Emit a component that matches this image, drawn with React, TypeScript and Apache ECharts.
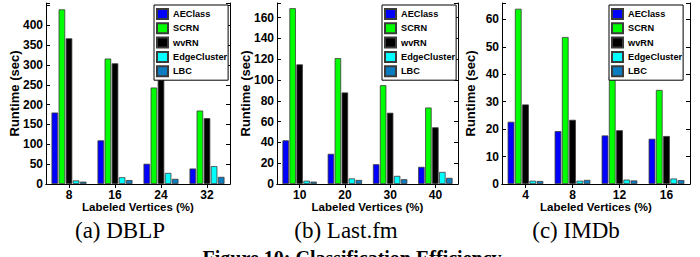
import React, { useEffect, useRef } from "react";
import * as echarts from "echarts";

const seriesNames = ["AEClass", "SCRN", "wvRN", "EdgeCluster", "LBC"];
const seriesColors = ["#0000ff", "#00ff00", "#000000", "#00ffff", "#0c7cc0"];

const catsDBLP = ["8", "16", "24", "32"];
const dblpAEClass = [180, 110, 51, 39];
const dblpSCRN = [440, 316, 243, 185];
const dblpWvRN = [367, 304, 272, 166];
const dblpEdgeCluster = [9, 17, 28, 45];
const dblpLBC = [6, 10, 13, 18];

const catsLastfm = ["10", "20", "30", "40"];
const lastfmAEClass = [42, 29, 19, 16.5];
const lastfmSCRN = [169, 121, 95, 73.5];
const lastfmWvRN = [115, 88, 68.5, 54.5];
const lastfmEdgeCluster = [3.2, 5.4, 7.8, 11.6];
const lastfmLBC = [2.3, 3.9, 4.6, 5.9];

const catsIMDb = ["4", "8", "12", "16"];
const imdbAEClass = [22.7, 19.3, 17.7, 16.5];
const imdbSCRN = [63.9, 53.6, 39.2, 34.3];
const imdbWvRN = [29, 23.4, 19.6, 17.5];
const imdbEdgeCluster = [1.2, 1.2, 1.6, 2.0];
const imdbLBC = [1.1, 1.5, 1.3, 1.4];

const yMax = [456, 174, 66];
const yInterval = [50, 20, 10];
const yLabelMax = [400, 160, 60];

const captions = ["(a) DBLP", "(b) Last.fm", "(c) IMDb"];
const figureCaption = "Figure 10: Classification Efficiency";

const panels = [
  { cats: catsDBLP, data: [dblpAEClass, dblpSCRN, dblpWvRN, dblpEdgeCluster, dblpLBC] },
  { cats: catsLastfm, data: [lastfmAEClass, lastfmSCRN, lastfmWvRN, lastfmEdgeCluster, lastfmLBC] },
  { cats: catsIMDb, data: [imdbAEClass, imdbSCRN, imdbWvRN, imdbEdgeCluster, imdbLBC] },
];

// layout (pixels)
const gridLeft = [46, 277, 502];
const gridWidth = [184, 181, 188];
const gridTop = 3;
const gridHeight = 181;
const legendLeft = [154, 382, 609];
const captionX = [120, 346, 576];

export default function App() {
  const ref = useRef<HTMLDivElement>(null);
  useEffect(() => {
    if (!ref.current) return;
    const chart = echarts.init(ref.current, undefined, { renderer: "svg" });
    const sans = "Liberation Sans";
    const axisLine = { show: true, lineStyle: { color: "#000", width: 1 } };
    const grids: any[] = [];
    const xAxes: any[] = [];
    const yAxes: any[] = [];
    const series: any[] = [];
    const legends: any[] = [];
    panels.forEach((p, i) => {
      grids.push({ left: gridLeft[i], top: gridTop, width: gridWidth[i], height: gridHeight });
      xAxes.push({
        type: "category",
        gridIndex: i,
        data: p.cats,
        position: "bottom",
        axisLine,
        axisTick: { show: true, inside: true, length: 4, alignWithLabel: true, lineStyle: { color: "#000" } },
        axisLabel: { color: "#000", fontFamily: sans, fontWeight: "bold", fontSize: 12, margin: 5 },
        name: "Labeled Vertices (%)",
        nameLocation: "middle",
        nameGap: 23,
        nameMoveOverlap: false,
        nameTextStyle: { color: "#000", fontFamily: sans, fontWeight: "bold", fontSize: 11.5, verticalAlign: "middle" },
      });
      xAxes.push({
        type: "category",
        gridIndex: i,
        data: p.cats,
        position: "top",
        axisLine,
        axisTick: { show: true, inside: true, length: 4, alignWithLabel: true, lineStyle: { color: "#000" } },
        axisLabel: { show: false },
      });
      const lm = yLabelMax[i];
      yAxes.push({
        type: "value",
        gridIndex: i,
        min: 0,
        max: yMax[i],
        interval: yInterval[i],
        position: "left",
        axisLine,
        axisTick: { show: true, inside: true, length: 4, lineStyle: { color: "#000" } },
        splitLine: { show: false },
        axisLabel: {
          color: "#000",
          fontFamily: sans,
          fontWeight: "bold",
          fontSize: 12,
          margin: 3,
          formatter: (v: number) => (v > lm ? "" : String(v)),
        },
        name: "Runtime (sec)",
        nameLocation: "middle",
        nameGap: 32,
        nameMoveOverlap: false,
        nameTextStyle: { color: "#000", fontFamily: sans, fontWeight: "bold", fontSize: 13, verticalAlign: "middle" },
      });
      yAxes.push({
        type: "value",
        gridIndex: i,
        min: 0,
        max: yMax[i],
        interval: yInterval[i],
        position: "right",
        axisLine,
        axisTick: { show: true, inside: true, length: 4, lineStyle: { color: "#000" } },
        splitLine: { show: false },
        axisLabel: { show: false },
      });
      p.data.forEach((vals, k) => {
        series.push({
          type: "bar",
          name: seriesNames[k],
          xAxisIndex: i * 2,
          yAxisIndex: i * 2,
          data: vals,
          barCategoryGap: "24%",
          barGap: "8%",
          itemStyle: { color: seriesColors[k], borderColor: "#3a3a3a", borderWidth: 0.8 },
        });
      });
      legends.push({
        data: seriesNames,
        orient: "vertical",
        left: legendLeft[i],
        top: 5,
        padding: [3, 1, 3, 2],
        itemWidth: 11,
        itemHeight: 10,
        itemGap: 2.3,
        icon: "rect",
        borderColor: "#000",
        borderWidth: 1,
        backgroundColor: "#fff",
        selectedMode: false,
        textStyle: { color: "#000", fontFamily: sans, fontWeight: "bold", fontSize: 9.2, lineHeight: 10 },
      });
    });
    const graphics: any[] = captions.map((c, i) => ({
      type: "text",
      x: captionX[i],
      y: 230,
      style: { text: c, fontFamily: "Liberation Serif", fontSize: 23, fill: "#000", align: "center", verticalAlign: "middle" },
    }));
    graphics.push({
      type: "text",
      x: 352,
      y: 248,
      style: { text: figureCaption, fontFamily: "Liberation Serif", fontWeight: "bold", fontSize: 20, fill: "#000", align: "center", verticalAlign: "top" },
    });
    chart.setOption({
      animation: false,
      backgroundColor: "#fff",
      grid: grids,
      xAxis: xAxes,
      yAxis: yAxes,
      legend: legends,
      series,
      graphic: graphics,
    });
    return () => chart.dispose();
  }, []);
  return <div ref={ref} style={{ width: 700, height: 257, position: "absolute", left: 0, top: 0 }} />;
}
